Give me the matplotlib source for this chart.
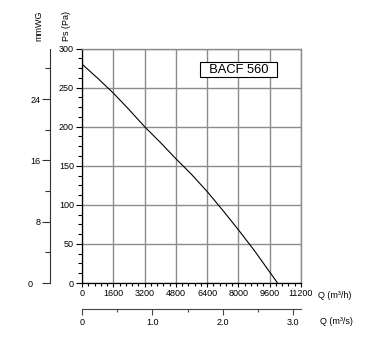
import numpy as np
import matplotlib
matplotlib.use('Agg')
import matplotlib.pyplot as plt
import matplotlib.transforms as mtransforms
from matplotlib.ticker import MultipleLocator, FixedLocator, FixedFormatter

plt.rcParams['font.family'] = ['Liberation Sans', 'DejaVu Sans']

# fan curve
flow_m3h = [0, 800, 1600, 2400, 3200, 4000, 4800, 5600, 6400, 7200, 8000, 8800, 9600, 10000]
static_pa = [280, 262, 243, 222, 200, 180, 159, 139, 117, 93, 68, 42, 14, 0]

model_name = 'BACF 560'
x_ticks_m3h = [0, 1600, 3200, 4800, 6400, 8000, 9600, 11200]
q_s_ticks = [0, 1.0, 2.0, 3.0]
q_s_labels = ['0', '1.0', '2.0', '3.0']
mmwg_ticks = [0, 8, 16, 24]

PA_PER_MMWG = 9.80665
GRID = '#8c8c8c'
FS = 6.5

fig = plt.figure(figsize=(3.9, 3.53), dpi=100)
ax = fig.add_axes([0.2103, 0.1983, 0.5615, 0.6643])

ax.plot(flow_m3h, static_pa, color='black', lw=0.8)
ax.set_xlim(0, 11200)
ax.set_ylim(0, 300)
ax.xaxis.set_major_locator(FixedLocator(x_ticks_m3h))
ax.xaxis.set_minor_locator(MultipleLocator(320))
ax.yaxis.set_major_locator(MultipleLocator(50))
ax.yaxis.set_minor_locator(MultipleLocator(12.5))
ax.grid(True, which='major', color=GRID, lw=1.0)
ax.tick_params(axis='x', which='major', length=3, width=0.8, pad=1.5, labelsize=FS)
ax.tick_params(axis='x', which='minor', length=2.5, width=0.8)
ax.tick_params(axis='y', which='major', length=4.3, width=0.8, pad=1.5, labelsize=FS)
ax.tick_params(axis='y', which='minor', length=3.2, width=0.8)
for s in ['top', 'right']:
    ax.spines[s].set_color(GRID)
    ax.spines[s].set_linewidth(1.0)
for s in ['left', 'bottom']:
    ax.spines[s].set_linewidth(0.9)

ax.text(8000, 273, '  ' + model_name + '  ', fontsize=9.3, ha='center', va='center',
        bbox=dict(boxstyle='square,pad=0.12', fc='white', ec='black', lw=0.8))

# mmWG scale on the far left
ax2 = ax.twinx()
ax2.set_ylim(0, 300 / PA_PER_MMWG)
ax2.yaxis.tick_left()
ax2.spines['left'].set_visible(True)
ax2.spines['left'].set_position(('outward', 23))
ax2.spines['left'].set_color('#333333')
for s in ['top', 'right', 'bottom']:
    ax2.spines[s].set_visible(False)
ax2.yaxis.set_major_locator(FixedLocator(mmwg_ticks))
ax2.yaxis.set_minor_locator(FixedLocator([4, 12, 20, 28]))
ax2.tick_params(axis='y', which='major', length=5.8, width=0.8, pad=1,
                labelsize=FS, color='#333333')
ax2.tick_params(axis='y', which='minor', length=3.6, width=0.8, color='#333333')
fig.canvas.draw()
lab0 = ax2.yaxis.get_majorticklabels()[0]
lab0.set_transform(lab0.get_transform() +
                   mtransforms.ScaledTranslation(-8 / 100, 0, fig.dpi_scale_trans))

# m3/s scale underneath
ax3 = ax.twiny()
ax3.set_xlim(0, 11200 / 3600)
ax3.xaxis.tick_bottom()
ax3.spines['bottom'].set_visible(True)
ax3.spines['bottom'].set_position(('outward', 18.7))
ax3.spines['bottom'].set_color('#444444')
for s in ['top', 'right', 'left']:
    ax3.spines[s].set_visible(False)
ax3.xaxis.set_major_locator(FixedLocator(q_s_ticks))
ax3.xaxis.set_major_formatter(FixedFormatter(q_s_labels))
ax3.xaxis.set_minor_locator(FixedLocator([0.5, 1.5, 2.5]))
ax3.tick_params(axis='x', which='major', length=4.3, width=0.8, pad=2,
                labelsize=FS, color='#444444')
ax3.tick_params(axis='x', which='minor', length=2.4, width=0.8, color='#444444')

ax.text(1.078, -0.053, 'Q (m³/h)', transform=ax.transAxes, fontsize=FS,
        ha='left', va='center')
ax.text(1.085, -0.165, 'Q (m³/s)', transform=ax.transAxes, fontsize=FS,
        ha='left', va='center')
ax.text(-0.070, 1.097, 'Ps (Pa)', transform=ax.transAxes, fontsize=FS,
        ha='center', va='center', rotation=90)
ax.text(-0.196, 1.097, 'mmWG', transform=ax.transAxes, fontsize=FS,
        ha='center', va='center', rotation=90)

fig.savefig('out.png', dpi=100)
